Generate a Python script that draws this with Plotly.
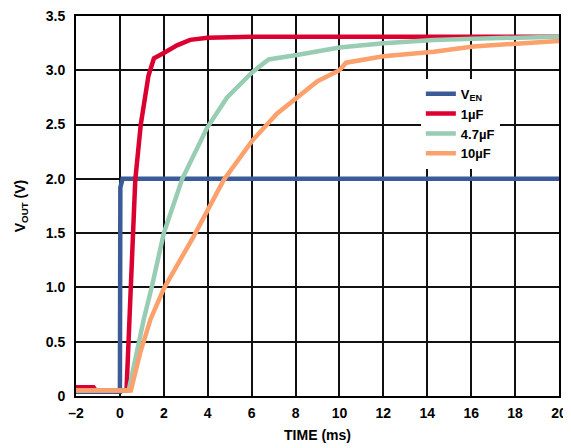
import plotly.graph_objects as go

t_en = [-2, 0.0, 0.02, 0.12, 20]
v_en = [0.04, 0.04, 1.92, 2.0, 2.0]

t_1u = [-2, -1.2, -1.1, 0.3, 0.7, 0.95, 1.3, 1.55, 2.0, 2.6, 3.2, 4.0, 6.0, 20]
v_1u = [0.08, 0.08, 0.05, 0.05, 1.99, 2.5, 2.95, 3.11, 3.16, 3.23, 3.28, 3.3, 3.31, 3.31]

t_47u = [-2, 0.4, 1.09, 1.47, 2.0, 2.84, 3.97, 4.88, 6.02, 6.77, 8.06, 10.0, 12.0, 14.3, 16.1, 20]
v_47u = [0.05, 0.05, 0.71, 1.02, 1.5, 2.0, 2.47, 2.75, 2.98, 3.1, 3.14, 3.21, 3.25, 3.28, 3.29, 3.31]

t_10u = [-2, 0.5, 0.94, 1.4, 2.0, 3.36, 4.73, 6.02, 7.15, 8.06, 9.0, 10.0, 10.3, 12.0, 14.3, 16.1, 18.1, 20]
v_10u = [0.05, 0.05, 0.41, 0.71, 0.99, 1.47, 1.99, 2.35, 2.6, 2.75, 2.9, 3.0, 3.07, 3.13, 3.17, 3.22, 3.25, 3.27]

x_ticks = [-2, 0, 2, 4, 6, 8, 10, 12, 14, 16, 18, 20]
x_labels = ["–2", "0", "2", "4", "6", "8", "10", "12", "14", "16", "18", "20"]
y_ticks = [0, 0.5, 1.0, 1.5, 2.0, 2.5, 3.0, 3.5]
y_labels = ["0", "0.5", "1.0", "1.5", "2.0", "2.5", "3.0", "3.5"]

fig = go.Figure()

series = [
    (t_en, v_en, "V<sub>EN</sub>", "#3a5b98"),
    (t_1u, v_1u, "1µF", "#dc0030"),
    (t_47u, v_47u, "4.7µF", "#98cdb4"),
    (t_10u, v_10u, "10µF", "#fca06c"),
]
for t, v, name, color in series:
    fig.add_trace(go.Scatter(
        x=t, y=v, mode="lines", name=name,
        line=dict(color=color, width=4.5),
    ))

# page body has an 8px margin, so the figure is sized 8px short on each axis
fig.update_layout(
    width=563, height=440,
    margin=dict(l=68, r=12, t=8, b=52),
    paper_bgcolor="white", plot_bgcolor="white",
    font=dict(family="Liberation Sans, Arial", size=14, color="black", weight="bold"),
    legend=dict(
        x=0.714, y=0.835, xanchor="left", yanchor="top",
        bgcolor="white", borderwidth=0,
        font=dict(size=13, weight="bold"),
        tracegroupgap=0, itemwidth=30,
    ),
    xaxis=dict(
        range=[-2, 20], tickvals=x_ticks, ticktext=x_labels,
        showgrid=True, gridcolor="#111111", gridwidth=2,
        showline=True, linecolor="black", linewidth=2, mirror=True,
        zeroline=False, ticks="", ticklabelstandoff=3, automargin=False,
        ticklabeloverflow="allow",
        tickfont=dict(size=14, weight="bold"),
        title=dict(text="TIME (ms)", font=dict(size=14, weight="bold"), standoff=10),
    ),
    yaxis=dict(
        range=[0, 3.5], tickvals=y_ticks, ticktext=y_labels,
        showgrid=True, gridcolor="#111111", gridwidth=2,
        showline=True, linecolor="black", linewidth=2, mirror=True,
        zeroline=False, ticks="", ticklabelstandoff=6, automargin=False,
        ticklabeloverflow="allow",
        tickfont=dict(size=14, weight="bold"),
        title=dict(text="V<sub>OUT</sub> (V)", font=dict(size=14, weight="bold"), standoff=17),
    ),
)

fig.write_html("out.html")
